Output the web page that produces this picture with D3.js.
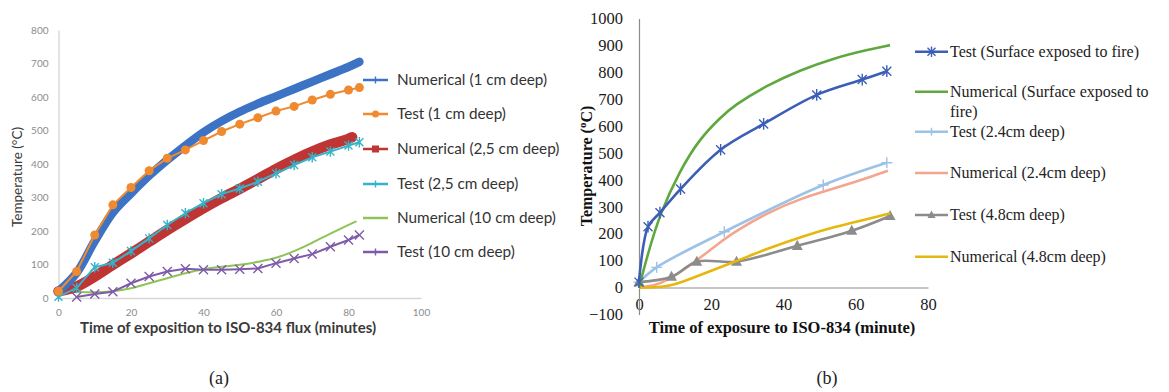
<!DOCTYPE html>
<html><head><meta charset="utf-8">
<script src="https://cdn.jsdelivr.net/npm/d3@7"></script>
<style>html,body{margin:0;padding:0;background:#fff;} svg{display:block;}</style>
</head><body>
<svg id="c" width="1169" height="392"></svg>
<script>
// ---------- Chart (a) data ----------
const aXTicks = [0, 20, 40, 60, 80, 100];
const aYTicks = [0, 100, 200, 300, 400, 500, 600, 700, 800];
const aNum1Time = [0, 5, 10, 15, 20, 25, 30, 35, 40, 45, 50, 55, 60, 65, 70, 75, 80, 83];
const aNum1Temp = [20, 75, 170, 255, 312, 365, 412, 455, 495, 528, 556, 580, 602, 624, 646, 668, 690, 705];
const aTest1Time = [0, 5, 10, 15, 20, 25, 30, 35, 40, 45, 50, 55, 60, 65, 70, 75, 80, 83];
const aTest1Temp = [20, 79, 188, 278, 330, 380, 417, 442, 470, 497, 519, 538, 558, 572, 591, 608, 621, 628];
const aNum25Time = [0, 5, 10, 15, 20, 25, 30, 35, 40, 45, 50, 55, 60, 65, 70, 75, 80, 81];
const aNum25Temp = [20, 34, 64, 99, 133, 168, 203, 236, 268, 298, 326, 355, 385, 412, 437, 458, 475, 480];
const aTest25Time = [0, 5, 10, 15, 20, 25, 30, 35, 40, 45, 50, 55, 60, 65, 70, 75, 80, 83];
const aTest25Temp = [4, 30, 92, 105, 140, 178, 218, 253, 283, 310, 327, 347, 372, 397, 420, 437, 455, 465];
const aNum10Time = [0, 5, 10, 15, 20, 25, 30, 35, 40, 45, 50, 55, 60, 65, 70, 75, 80, 82];
const aNum10Temp = [20, 18, 17, 20, 29, 44, 59, 74, 86, 93, 99, 108, 120, 140, 165, 192, 218, 228];
const aTest10Time = [5, 10, 15, 20, 25, 30, 35, 40, 45, 50, 55, 60, 65, 70, 75, 80, 83];
const aTest10Temp = [3, 12, 19, 44, 64, 79, 87, 84, 84, 86, 88, 104, 118, 131, 153, 173, 188];
const aLabels = ["Numerical (1 cm deep)", "Test (1 cm deep)", "Numerical (2,5 cm deep)", "Test (2,5 cm deep)", "Numerical (10 cm deep)", "Test (10 cm deep)"];

// ---------- Chart (b) data ----------
const bXTicks = [0, 20, 40, 60, 80];
const bYTicks = [-100, 0, 100, 200, 300, 400, 500, 600, 700, 800, 900, 1000];
const bTestSurfTime = [0, 2.5, 5.8, 11.5, 22.6, 34.5, 49.2, 61.8, 68.6];
const bTestSurfTemp = [20, 226, 278, 366, 512, 608, 716, 773, 804];
const bNumSurfTime = [0, 2.3, 5.8, 11.3, 16.9, 22.6, 26.1, 35.4, 44.6, 53.8, 63, 69.5];
const bNumSurfTemp = [0, 118, 275, 435, 555, 632, 675, 752, 808, 852, 883, 901];
const bTest24Time = [0, 4.9, 23.6, 51, 68.6];
const bTest24Temp = [20, 75, 207, 381, 464];
const bNum24Time = [0, 4, 8.1, 12, 17.4, 23.6, 26.6, 35.8, 45, 54.2, 61.6, 68.9];
const bNum24Temp = [0, 5, 28, 62, 115, 180, 208, 280, 332, 369, 400, 434];
const bTest48Time = [0, 9, 16, 27, 43.8, 58.9, 69.5];
const bTest48Temp = [20, 40, 96, 96, 155, 211, 266];
const bNum48Time = [0, 4, 8.1, 12, 17.4, 26.6, 35.8, 45, 54.2, 63.5, 69.5];
const bNum48Temp = [0, 0, 5, 20, 49, 96, 146, 189, 226, 255, 276];
const bLabels = ["Test (Surface exposed to fire)", "Numerical (Surface exposed to", "fire)", "Test (2.4cm  deep)", "Numerical (2.4cm deep)", "Test (4.8cm  deep)", "Numerical (4.8cm deep)"];

const svg = d3.select("#c");
const zip = (t, v) => t.map((d, i) => [d, v[i]]);

function marker(g, type, x, y, color, s) {
  if (type === "circle") {
    g.append("circle").attr("cx", x).attr("cy", y).attr("r", s).attr("fill", color);
  } else if (type === "square") {
    g.append("rect").attr("x", x - s).attr("y", y - s).attr("width", 2 * s).attr("height", 2 * s).attr("fill", color);
  } else if (type === "plus") {
    g.append("path").attr("d", `M${x - s},${y}H${x + s}M${x},${y - s}V${y + s}`).attr("stroke", color).attr("stroke-width", 1.4).attr("fill", "none");
  } else if (type === "x") {
    g.append("path").attr("d", `M${x - s},${y - s}L${x + s},${y + s}M${x - s},${y + s}L${x + s},${y - s}`).attr("stroke", color).attr("stroke-width", 1.4).attr("fill", "none");
  } else if (type === "star") {
    g.append("path").attr("d", `M${x - s},${y - s}L${x + s},${y + s}M${x - s},${y + s}L${x + s},${y - s}M${x},${y - s * 1.3}V${y + s * 1.3}`).attr("stroke", color).attr("stroke-width", 1.4).attr("fill", "none");
  } else if (type === "tri") {
    g.append("path").attr("d", `M${x},${y - s * 1.1}L${x + s},${y + s * 0.75}L${x - s},${y + s * 0.75}Z`).attr("fill", color);
  }
}

// ================= Chart (a) =================
const xA = d3.scaleLinear().domain([0, 100]).range([58.5, 421]);
const yA = d3.scaleLinear().domain([0, 800]).range([298, 30]);
const fa = "Lato, 'Open Sans', sans-serif";
const gA = svg.append("g");

const axA_x = gA.append("g").attr("transform", `translate(0,${yA(0)})`)
  .call(d3.axisBottom(xA).tickValues(aXTicks).tickSize(0).tickSizeOuter(0).tickPadding(11));
const axA_y = gA.append("g").attr("transform", `translate(${xA(0)},0)`)
  .call(d3.axisLeft(yA).tickValues(aYTicks).tickSize(0).tickSizeOuter(0).tickPadding(10));
[axA_x, axA_y].forEach(a => {
  a.select(".domain").attr("stroke", "#d6d6d6").attr("stroke-width", 1.3);
  a.selectAll("text").attr("font-family", fa).attr("font-size", 10).attr("fill", "#8c8c8c");
});

const aSeries = [
  { t: aNum1Time, v: aNum1Temp, color: "#3D73C5", w: 8.5, m: null, lm: "plus" },
  { t: aTest1Time, v: aTest1Temp, color: "#F08A30", w: 2, m: "circle", ms: 4.5, lm: "circle" },
  { t: aNum25Time, v: aNum25Temp, color: "#BE3533", w: 10.5, m: null, lm: "square" },
  { t: aTest25Time, v: aTest25Temp, color: "#36B3C9", w: 2, m: "star", ms: 4, lm: "plus" },
  { t: aNum10Time, v: aNum10Temp, color: "#8EC456", w: 2, m: null, lm: null },
  { t: aTest10Time, v: aTest10Temp, color: "#7E5BA8", w: 2, m: "x", ms: 4.5, lm: "plus" }
];
const lineA = d3.line().x(d => xA(d[0])).y(d => yA(d[1])).curve(d3.curveCatmullRom.alpha(0.5));
const lineAstraight = d3.line().x(d => xA(d[0])).y(d => yA(d[1]));
const drawOrderA = [4, 5, 2, 3, 0, 1];
drawOrderA.forEach(i => {
  const s = aSeries[i];
  const pts = zip(s.t, s.v);
  gA.append("path").attr("d", (s.m ? lineAstraight : lineA)(pts)).attr("fill", "none")
    .attr("stroke", s.color).attr("stroke-width", s.w).attr("stroke-linecap", "round").attr("stroke-linejoin", "round");
  if (s.m) pts.forEach(p => marker(gA, s.m, xA(p[0]), yA(p[1]), s.color, s.ms));
});

gA.append("text").attr("x", 228).attr("y", 333).attr("text-anchor", "middle")
  .attr("font-family", fa).attr("font-size", 15).attr("font-weight", 700).attr("fill", "#3a3a3a")
  .text("Time of exposition to ISO-834 flux (minutes)");
gA.append("text").attr("transform", `translate(22,177) rotate(-90)`).attr("text-anchor", "middle")
  .attr("font-family", fa).attr("font-size", 13.5).attr("fill", "#3a3a3a").text("Temperature (°C)");

const legAY = [80, 114, 149, 184, 218, 252];
aSeries.forEach((s, i) => {
  const y = legAY[i];
  gA.append("line").attr("x1", 363).attr("x2", 388).attr("y1", y).attr("y2", y).attr("stroke", s.color).attr("stroke-width", 2.5);
  if (s.lm) marker(gA, s.lm, 375.5, y, s.color, 3.5);
  gA.append("text").attr("x", 397).attr("y", y + 5).attr("font-family", fa).attr("font-size", 15.3)
    .attr("fill", "#333").text(aLabels[i]);
});

// ================= Chart (b) =================
const xB = d3.scaleLinear().domain([0, 80]).range([639, 928]);
const yB = d3.scaleLinear().domain([-100, 1000]).range([314.4, 18.5]);
const fb = "'Liberation Serif', 'Times New Roman', serif";
const gB = svg.append("g");

const axB_x = gB.append("g").attr("transform", `translate(0,${yB(0)})`)
  .call(d3.axisBottom(xB).tickValues(bXTicks).tickSize(0).tickSizeOuter(0).tickPadding(11));
const axB_y = gB.append("g").attr("transform", `translate(${xB(0)},0)`)
  .call(d3.axisLeft(yB).tickValues(bYTicks).tickFormat(d3.format("d")).tickSize(0).tickSizeOuter(0).tickPadding(16));
[axB_x, axB_y].forEach(a => {
  a.select(".domain").attr("stroke", "#8c8c8c").attr("stroke-width", 1.2);
  a.selectAll("text").attr("font-family", fb).attr("font-size", 16.5).attr("fill", "#1a1a1a");
});

const bSeries = [
  { t: bTestSurfTime, v: bTestSurfTemp, color: "#3B5EB6", m: "star", ms: 4.5 },
  { t: bNumSurfTime, v: bNumSurfTemp, color: "#5EA83F", m: null },
  { t: bTest24Time, v: bTest24Temp, color: "#9CC2E6", m: "plus", ms: 5.5 },
  { t: bNum24Time, v: bNum24Temp, color: "#F4A58E", m: null },
  { t: bTest48Time, v: bTest48Temp, color: "#8C8C8C", m: "tri", ms: 5.5 },
  { t: bNum48Time, v: bNum48Temp, color: "#E6B70C", m: null }
];
const lineB = d3.line().x(d => xB(d[0])).y(d => yB(d[1])).curve(d3.curveCatmullRom.alpha(0.5));
const lineBn = d3.line().x(d => xB(d[0])).y(d => yB(d[1])).curve(d3.curveBasis);
[2, 3, 4, 5, 1, 0].forEach(i => {
  const s = bSeries[i];
  const pts = zip(s.t, s.v);
  gB.append("path").attr("d", (s.m ? lineB : lineBn)(pts)).attr("fill", "none")
    .attr("stroke", s.color).attr("stroke-width", 2.6).attr("stroke-linejoin", "round");
  if (s.m) pts.forEach(p => marker(gB, s.m, xB(p[0]), yB(p[1]), s.color, s.ms));
});

gB.append("text").attr("x", 782).attr("y", 333).attr("text-anchor", "middle")
  .attr("font-family", fb).attr("font-size", 16.5).attr("font-weight", "bold").attr("fill", "#111")
  .text("Time of exposure  to ISO-834 (minute)");
const yt = gB.append("text").attr("transform", `translate(592,166) rotate(-90)`).attr("text-anchor", "middle")
  .attr("font-family", fb).attr("font-size", 16).attr("font-weight", "bold").attr("fill", "#111");
yt.append("tspan").text("Temperature  (");
yt.append("tspan").attr("font-size", 11).attr("dy", -6).text("o");
yt.append("tspan").attr("dy", 6).text("C)");

const legBRows = [
  { s: 0, y: 51.7, lab: [0] },
  { s: 1, y: 91.7, lab: [1, 2] },
  { s: 2, y: 131.7, lab: [3] },
  { s: 3, y: 173, lab: [4] },
  { s: 4, y: 215, lab: [5] },
  { s: 5, y: 256.7, lab: [6] }
];
legBRows.forEach(r => {
  const s = bSeries[r.s];
  gB.append("line").attr("x1", 915).attr("x2", 948).attr("y1", r.y).attr("y2", r.y).attr("stroke", s.color).attr("stroke-width", 2.6);
  if (s.m) marker(gB, s.m, 931.5, r.y, s.color, 4);
  r.lab.forEach((li, k) => {
    gB.append("text").attr("x", 950).attr("y", r.y + 5 + k * 20).attr("font-family", fb).attr("font-size", 16)
      .attr("fill", "#222").text(bLabels[li]);
  });
});

// panel labels
svg.append("text").attr("x", 219).attr("y", 384).attr("text-anchor", "middle").attr("font-family", fb).attr("font-size", 18).attr("fill", "#222").text("(a)");
svg.append("text").attr("x", 827).attr("y", 384).attr("text-anchor", "middle").attr("font-family", fb).attr("font-size", 18).attr("fill", "#222").text("(b)");
</script>
</body></html>
